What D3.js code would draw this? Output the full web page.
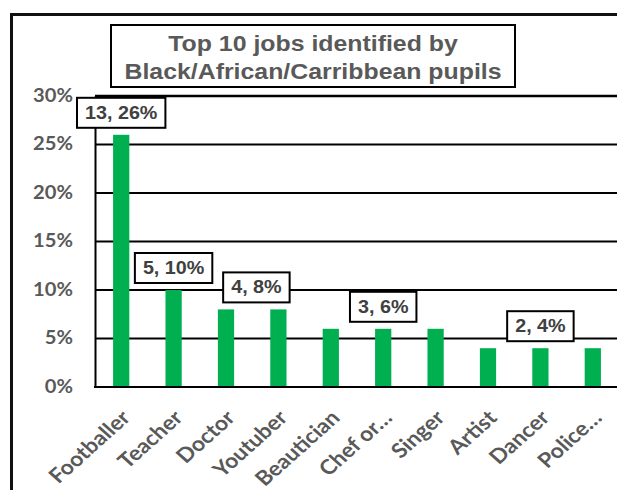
<!DOCTYPE html>
<html>
<head>
<meta charset="utf-8">
<script src="https://cdn.jsdelivr.net/npm/d3@7"></script>
<style>
  html, body { margin: 0; padding: 0; background: #fff; }
  svg { display: block; }
</style>
</head>
<body>
<svg id="chart" width="617" height="490"></svg>
<script>
// Jobs named by Black/African/Caribbean pupils (top 10)
const categories = ["Footballer", "Teacher", "Doctor", "Youtuber", "Beautician",
                    "Chef or\u2026", "Singer", "Artist", "Dancer", "Police\u2026"];
const counts = [13, 5, 4, 4, 3, 3, 3, 2, 2, 2];
const percents = [26, 10, 8, 8, 6, 6, 6, 4, 4, 4];
const yTicks = [0, 5, 10, 15, 20, 25, 30];
const titleLines = ["Top 10 jobs identified by", "Black/African/Carribbean pupils"];
// Bars that carry a "count, percent" callout
const labelledBars = ["Footballer", "Teacher", "Doctor", "Chef or\u2026", "Dancer"];

const svg = d3.select("#chart");
const W = 617, H = 490;
const plot = { left: 95, right: 619, top: 96, bottom: 387 };
const stretch = 1.12;           // text is drawn slightly wide
const grey = "#595959";

const x = d3.scaleBand()
  .domain(categories)
  .range([plot.left, plot.right])
  .paddingInner(0.69)
  .paddingOuter(0.345);

const y = d3.scaleLinear()
  .domain([0, 30])
  .range([plot.bottom, plot.top]);

// Chart frame
svg.append("path")
  .attr("d", `M11.5,${H} V14.5 H${W}`)
  .attr("fill", "none")
  .attr("stroke", "#111")
  .attr("stroke-width", 3);

// Gridlines
svg.append("g")
  .selectAll("line")
  .data(yTicks.filter(t => t > 0))
  .join("line")
  .attr("x1", plot.left).attr("x2", plot.right)
  .attr("y1", d => y(d)).attr("y2", d => y(d))
  .attr("stroke", "#000")
  .attr("stroke-width", d => d === 30 ? 2.5 : 2);

// Y axis through d3.axisLeft, restyled
const yAxis = svg.append("g")
  .attr("transform", `translate(${plot.left},0)`)
  .call(d3.axisLeft(y).tickValues(yTicks).tickSize(0).tickPadding(22)
        .tickFormat(d => d + "%"));
yAxis.select(".domain").attr("stroke", "#000").attr("stroke-width", 2);
yAxis.selectAll("text")
  .attr("fill", grey)
  .attr("font-family", "Lato, 'Open Sans', sans-serif")
  .attr("font-weight", 700)
  .attr("font-size", 18)
  .attr("dy", "0.3em")
  .attr("x", null)
  .attr("transform", `translate(-22,0) scale(${stretch},1)`);

// Bars
svg.append("g")
  .selectAll("rect")
  .data(categories)
  .join("rect")
  .attr("x", d => x(d))
  .attr("width", x.bandwidth())
  .attr("y", (d, i) => y(percents[i]))
  .attr("height", (d, i) => y(0) - y(percents[i]))
  .attr("fill", "#00B050");

// Baseline
svg.append("line")
  .attr("x1", plot.left - 1).attr("x2", plot.right)
  .attr("y1", plot.bottom).attr("y2", plot.bottom)
  .attr("stroke", "#000").attr("stroke-width", 2);

// Category labels, rotated
svg.append("g")
  .selectAll("text")
  .data(categories)
  .join("text")
  .attr("transform", d => `translate(${x(d) + x.bandwidth() / 2 - 1},${plot.bottom + 22}) scale(${stretch},1) rotate(-45)`)
  .attr("text-anchor", "end")
  .attr("dy", "0.7em")
  .attr("fill", grey)
  .attr("font-family", "Lato, 'Open Sans', sans-serif")
  .attr("font-weight", 700)
  .attr("font-size", 20.5)
  .text(d => d);

// Value callouts
const callouts = svg.append("g");
labelledBars.forEach((cat, k) => {
  const i = categories.indexOf(cat);
  let cx = x(cat) + x.bandwidth() / 2;
  if (cat === "Doctor") cx += x.step() * 0.58;   // shared by Doctor and Youtuber
  const bottom = y(percents[i]) - 7;
  const g = callouts.append("g");
  const t = g.append("text")
    .attr("transform", `translate(${cx},${bottom - 9}) scale(${stretch * 0.98},1)`)
    .attr("text-anchor", "middle")
    .attr("fill", "#404040")
    .attr("font-family", "'Liberation Sans', Arial, sans-serif")
    .attr("font-weight", 700)
    .attr("font-size", 18)
    .text(`${counts[i]}, ${percents[i]}%`);
  const w = t.node().getComputedTextLength() * stretch * 0.98 + 16;
  g.insert("rect", "text")
    .attr("x", cx - w / 2).attr("y", bottom - 30)
    .attr("width", w).attr("height", 30)
    .attr("fill", "#fff")
    .attr("stroke", "#000").attr("stroke-width", 2);
});

// Title box
const titleBox = { x: 111, y: 25, w: 404, h: 62 };
svg.append("rect")
  .attr("x", titleBox.x).attr("y", titleBox.y)
  .attr("width", titleBox.w).attr("height", titleBox.h)
  .attr("fill", "#fff")
  .attr("stroke", "#000").attr("stroke-width", 2);
svg.append("g")
  .selectAll("text")
  .data(titleLines)
  .join("text")
  .attr("transform", (d, i) => `translate(${titleBox.x + titleBox.w / 2},${51 + i * 28}) scale(1.13,1)`)
  .attr("text-anchor", "middle")
  .attr("fill", grey)
  .attr("font-family", "'Liberation Sans', Arial, sans-serif")
  .attr("font-weight", 700)
  .attr("font-size", 22)
  .text(d => d);
</script>
</body>
</html>
